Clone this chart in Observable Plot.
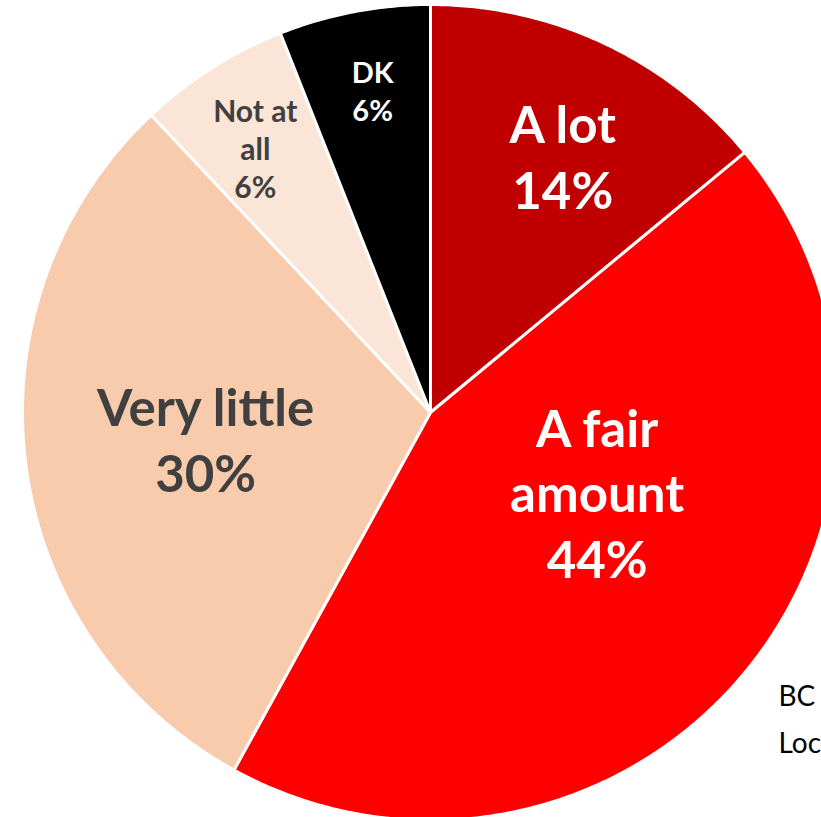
<!DOCTYPE html>
<html><head><meta charset="utf-8">
<script src="https://cdn.jsdelivr.net/npm/d3@7"></script>
<script src="https://cdn.jsdelivr.net/npm/@observablehq/plot@0.6"></script>
<style>body{margin:0;background:#fff;overflow:hidden}svg{display:block}</style>
</head><body><div id="chart"></div>
<script>
const categories = ["A lot", "A fair amount", "Very little", "Not at all", "DK"];
const labelText = ["A lot\n14%", "A fair\namount\n44%", "Very little\n30%", "Not at\nall\n6%", "DK\n6%"];
const values = [14, 44, 30, 6, 6];
const colors = ["#C00000", "#FF0000", "#F8CBAD", "#FBE5D6", "#000000"];
const textColors = ["#FFFFFF", "#FFFFFF", "#404040", "#404040", "#FFFFFF"];
const footnote = ["BC", "Local"];

const W = 821, H = 817, R = 408, CX = 430, CY = 412;
const pie = d3.pie().sort(null).value(d => d)(values);

// polygon outline of each slice (data units = pixels, y up)
const pts = [];
pie.forEach((p, i) => {
  const n = Math.max(2, Math.ceil((p.endAngle - p.startAngle) * 120));
  pts.push({k: i, x: 0, y: 0});
  for (let j = 0; j <= n; j++) {
    const a = p.startAngle + (p.endAngle - p.startAngle) * j / n;
    pts.push({k: i, x: R * Math.sin(a), y: R * Math.cos(a)});
  }
  pts.push({k: i, x: 0, y: 0});
});

const labelPos = pie.map((p, i) => {
  const a = (p.startAngle + p.endAngle) / 2;
  return {i, x: 0.6 * R * Math.sin(a), y: 0.6 * R * Math.cos(a), text: labelText[i]};
});
// [dx, dy, fontSize, lineHeight]
const offs = [[28, -36, 51, 1.28], [-22, -77, 51, 1.28], [18, -5, 51, 1.29], [-44, -58, 30, 1.27], [-12, -82, 29, 1.31]];

const marks = [
  Plot.line(pts, {x: "x", y: "y", z: "k", fill: d => colors[d.k], stroke: "#fff", strokeWidth: 3, strokeLinejoin: "round", curve: "linear"})
];
labelPos.forEach((d, i) => {
  marks.push(Plot.text([d], {x: "x", y: "y", text: "text", dx: offs[i][0], dy: offs[i][1],
    fill: textColors[i], fontSize: offs[i][2], fontWeight: "bold", lineHeight: offs[i][3],
    lineAnchor: "middle", textAnchor: "middle", fontFamily: "Lato"}));
});
marks.push(Plot.text([footnote.join("\n")], {frameAnchor: "top-left", text: d => d, dx: 778, dy: 672,
  fontSize: 28, fill: "#000", lineHeight: 1.68, lineAnchor: "top", textAnchor: "start", fontFamily: "Lato"}));

const chart = Plot.plot({
  width: W, height: H, margin: 0,
  x: {domain: [-CX, W - CX], range: [0, W], axis: null},
  y: {domain: [CY - H, CY], range: [H, 0], axis: null},
  style: {background: "#fff", overflow: "hidden"},
  marks
});
document.getElementById("chart").appendChild(chart);
</script></body></html>
